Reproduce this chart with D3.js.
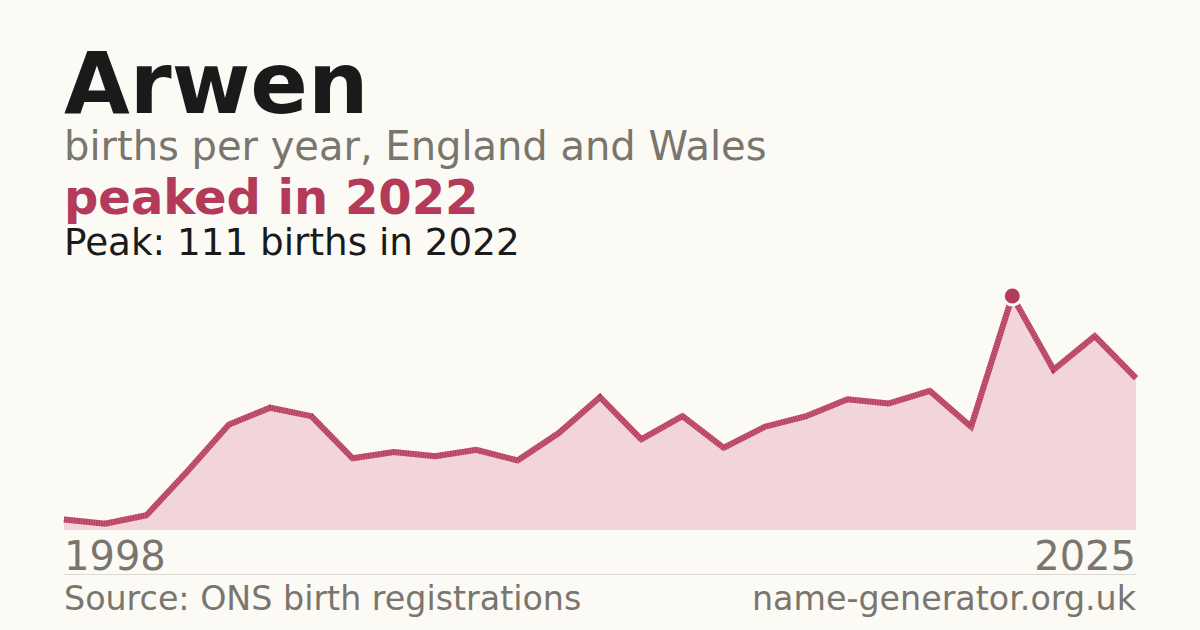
<!DOCTYPE html>
<html>
<head>
<meta charset="utf-8">
<script src="https://cdn.jsdelivr.net/npm/d3@7"></script>
<style>
	html, body { margin: 0; padding: 0; background: #fbfaf5; }
	svg { display: block; font-family: "DejaVu Sans", sans-serif; }
</style>
</head>
<body>
<svg id="chart" width="1200" height="630"></svg>
<script>
	var years = [ 1998, 2000, 2001, 2002, 2003, 2004, 2005, 2006, 2007, 2008, 2009, 2010, 2011, 2012,
			2013, 2014, 2015, 2016, 2017, 2018, 2019, 2020, 2021, 2022, 2023, 2024, 2025 ];
	var births = [ 5, 3, 7, 28, 50, 58, 54, 34, 37, 35, 38, 33, 46, 63,
			43, 54, 39, 49, 54, 62, 60, 66, 49, 111, 76, 92, 72 ];
	var edgeLabels = [ "1998", "2025" ];

	var peakIndex = d3.maxIndex(births);

	var svg = d3.select("#chart");

	svg.append("rect").attr("width", 1200).attr("height", 630).attr("fill", "#fbfaf5");

	var x = d3.scalePoint().domain(d3.range(years.length)).range([ 64, 1136 ]);
	var y = d3.scaleLinear().domain([ 0, births[peakIndex] ]).range([ 530, 296 ]);

	// header texts
	svg.append("text").attr("x", 64).attr("y", 113)//
	.attr("font-size", 85).attr("font-weight", "bold").attr("fill", "#1a1a1a")//
	.text("Arwen");
	svg.append("text").attr("x", 64).attr("y", 160)//
	.attr("font-size", 40).attr("fill", "#7a756d")//
	.text("births per year, England and Wales");
	svg.append("text").attr("x", 64).attr("y", 214)//
	.attr("font-size", 48).attr("font-weight", "bold").attr("fill", "#b33a58")//
	.text("peaked in " + years[peakIndex]);
	svg.append("text").attr("x", 64).attr("y", 255)//
	.attr("font-size", 37.3).attr("fill", "#1a1a1a")//
	.text("Peak: " + births[peakIndex] + " births in " + years[peakIndex]);

	// area + line
	var area = d3.area().x(function(d, i) {
		return x(i);
	}).y0(y(0)).y1(function(d) {
		return y(d);
	});
	var line = d3.line().x(function(d, i) {
		return x(i);
	}).y(function(d) {
		return y(d);
	});

	svg.append("path").datum(births).attr("d", area).attr("fill", "#f2d5da");
	svg.append("path").datum(births).attr("d", line)//
	.attr("fill", "none").attr("stroke", "#c45a75").attr("stroke-width", 6);
	svg.append("path").datum(births).attr("d", line)//
	.attr("fill", "none").attr("stroke", "#b03557").attr("stroke-width", 6)//
	.attr("stroke-dasharray", "1 1.5").attr("stroke-opacity", 0.85);

	// peak marker
	svg.append("circle").attr("cx", x(peakIndex)).attr("cy", y(births[peakIndex]))//
	.attr("r", 9).attr("fill", "#b33a58").attr("stroke", "#fbfaf5").attr("stroke-width", 3);

	// edge year labels
	svg.append("text").attr("x", x(0)).attr("y", 570)//
	.attr("font-size", 40).attr("fill", "#7a756d").text(edgeLabels[0]);
	svg.append("text").attr("x", x(years.length - 1)).attr("y", 570).attr("text-anchor", "end")//
	.attr("font-size", 40).attr("fill", "#7a756d").text(edgeLabels[1]);

	// footer
	svg.append("line").attr("x1", 64).attr("x2", 1136).attr("y1", 574.5).attr("y2", 574.5)//
	.attr("stroke", "#dcd9d2").attr("stroke-width", 1);
	svg.append("text").attr("x", 64).attr("y", 610)//
	.attr("font-size", 33.3).attr("fill", "#7a756d").text("Source: ONS birth registrations");
	svg.append("text").attr("x", 1136).attr("y", 610).attr("text-anchor", "end")//
	.attr("font-size", 33.3).attr("fill", "#7a756d").text("name-generator.org.uk");
</script>
</body>
</html>
